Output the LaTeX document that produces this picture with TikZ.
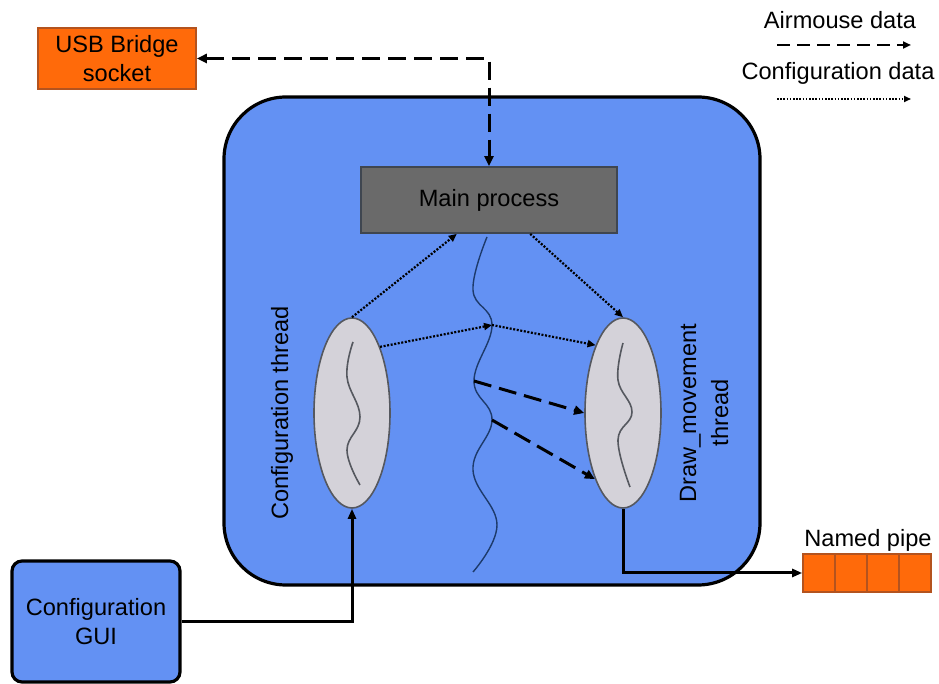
\documentclass[tikz,border=0pt]{standalone}
\usepackage{fontspec}
\setmainfont{Liberation Sans}
\usetikzlibrary{arrows.meta,calc,shapes.geometric}

\definecolor{procblue}{HTML}{6391F3}
\definecolor{bridgeorange}{HTML}{FF6A0A}
\definecolor{bridgeedge}{HTML}{B4531E}
\definecolor{maingray}{HTML}{6A6A6A}
\definecolor{mainedge}{HTML}{3F4650}
\definecolor{threadfill}{HTML}{D4D2D9}
\definecolor{threadedge}{HTML}{55585F}
\definecolor{wavecolor}{HTML}{1D3A6B}

\tikzset{
  orangebox/.style={draw=bridgeedge, line width=0.8pt, fill=bridgeorange, inner sep=0pt, align=center},
  bluebox/.style={draw=black, line width=1.6pt, fill=procblue, inner sep=0pt, align=center},
  mainbox/.style={draw=mainedge, line width=0.9pt, fill=maingray, inner sep=0pt},
  threadoval/.style={ellipse, draw=threadedge, line width=0.8pt, fill=threadfill, inner sep=0pt,
    minimum width=38pt, minimum height=95pt},
  pipecell/.style={draw=bridgeedge, line width=0.8pt, fill=bridgeorange, inner sep=0pt,
    minimum width=16pt, minimum height=19pt},
  airflow/.style={line width=1.5pt, dash pattern=on 9pt off 4pt, -{Triangle[length=5pt,width=4.5pt]}},
  conflow/.style={line width=1.1pt, dash pattern=on 1pt off 0.8pt, -{Triangle[length=4pt,width=3.5pt]}},
  wireflow/.style={line width=1.5pt, -{Triangle[length=5pt,width=4pt]}},
  squiggle/.style={line width=0.8pt, draw=threadedge},
}

\begin{document}
\begin{tikzpicture}[x=0.5pt, y=-0.5pt, font=\fontsize{11.8}{14.5}\selectfont]
  \useasboundingbox (0,0) rectangle (939,684);

  % process container
  \node[bluebox, rounded corners=31pt, minimum width=268pt, minimum height=244pt] (proc) at (492,341) {};

  % external endpoints
  \node[orangebox, minimum width=79pt, minimum height=30.5pt] (usb) at (117,58.5) {USB Bridge\\socket};
  \node[bluebox, rounded corners=5pt, minimum width=84pt, minimum height=60.5pt] (gui) at (96,621.5) {Configuration\\GUI};

  % main process and threads
  \node[mainbox, minimum width=128pt, minimum height=33pt] (main) at (489,200) {Main process};
  \node[threadoval] (lell) at (352,413) {};
  \node[threadoval] (rell) at (623,413) {};

  \node[rotate=90] (ltext) at (282,413) {Configuration thread};
  \node[rotate=90, align=center, font=\fontsize{11.8}{16}\selectfont] (rtext) at (704,413) {Draw\_movement\\thread};

  % thread of control of the main process
  \coordinate (w1) at (487,237);
  \coordinate (w2) at (473,290);
  \coordinate (w3) at (492,325);
  \coordinate (w4) at (474,381);
  \coordinate (w5) at (492,420);
  \coordinate (w6) at (473,470);
  \coordinate (w7) at (497,525);
  \coordinate (w8) at (473,572);
  \draw[wavecolor, line width=0.7pt] plot[smooth, tension=0.7] coordinates {(w1) (w2) (w3) (w4) (w5) (w6) (w7) (w8)};

  % threads inside the ovals
  \draw[squiggle] plot[smooth, tension=0.7] coordinates {(353,342) (347,377) (360,417) (347,450) (360,485)};
  \draw[squiggle] plot[smooth, tension=0.7] coordinates {(623,343) (618,380) (632,412) (618,440) (630,487)};

  % named pipe
  \node[pipecell] (p1) at (819,573) {};
  \node[pipecell] (p2) at (851,573) {};
  \node[pipecell] (p3) at (883,573) {};
  \node[pipecell] (p4) at (915,573) {};
  \node (pipelabel) at (868,540) {Named pipe};

  % airmouse data to and from the USB bridge
  \draw[airflow, {Triangle[length=5pt,width=4.5pt]}-{Triangle[length=5pt,width=4.5pt]}] (usb.east) -| (main.north);

  % configuration data
  \draw[conflow] (lell.north) -- ($(main.south west)!0.375!(main.south east)$);
  \draw[conflow] ($(main.south west)!0.66!(main.south east)$) -- (rell.north);
  \draw[conflow] (lell.67) -- (w3);
  \draw[conflow] (w3) -- (rell.112);

  % airmouse data towards the drawing thread
  \draw[airflow] (w4) -- (rell.west);
  \draw[airflow] (w5) -- (rell.247);

  % wiring to GUI and pipe
  \draw[wireflow] (gui.east) -| (lell.south);
  \draw[wireflow] (rell.south) |- (p1.west);

  % legend
  \node (legair) at (840,20) {Airmouse data};
  \coordinate (la1) at (777,45);
  \coordinate (la2) at (911,45);
  \draw[line width=1.3pt, dash pattern=on 6.5pt off 3.5pt, -{Triangle[length=4pt,width=3.5pt]}] (la1) -- (la2);
  \node (legconf) at (838,73) {Configuration data};
  \coordinate (lc1) at (777,99);
  \coordinate (lc2) at (911,99);
  \draw[line width=0.8pt, dash pattern=on 0.8pt off 0.8pt, -{Triangle[length=3.5pt,width=3pt]}] (lc1) -- (lc2);
\end{tikzpicture}
\end{document}
